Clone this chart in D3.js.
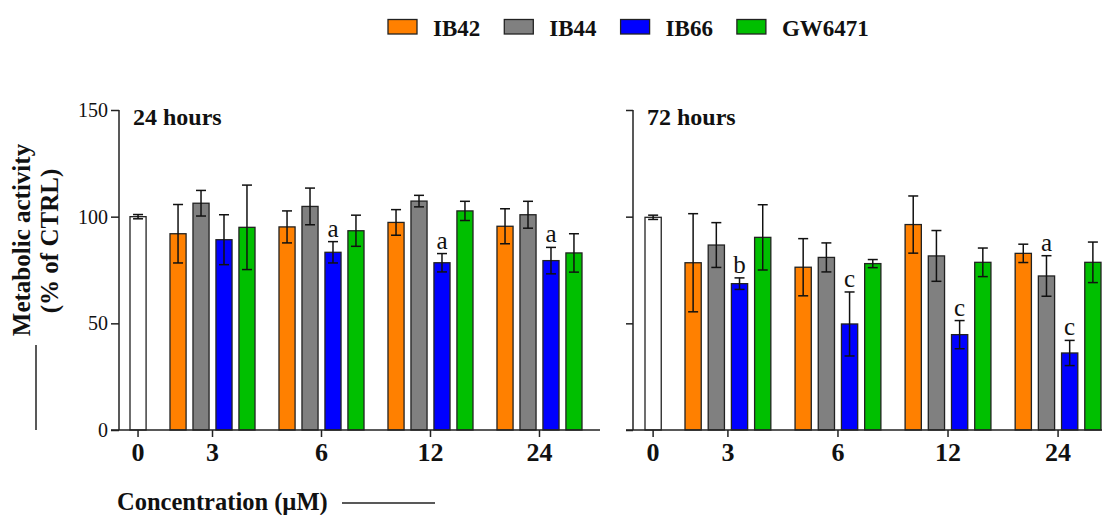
<!DOCTYPE html>
<html>
<head>
<meta charset="utf-8">
<script src="https://d3js.org/d3.v7.min.js"></script>
<style>
  body { margin: 0; background: #fff; }
  svg text { font-family: "Liberation Serif", "Times New Roman", "DejaVu Serif", serif !important; fill: #111; }
</style>
</head>
<body>
<svg id="vis"></svg>
<script>
  var W = 1102, H = 515

  // data
  var concs = ["3", "6", "12", "24"]
  var series = ["IB42", "IB44", "IB66", "GW6471"]
  var colors = ["#ff8000", "#808080", "#0000ff", "#00bf00"]
  var yTicks = [0, 50, 100, 150]

  var ctrl24 = 100, ctrlErr24 = 1
  var mean24 = [[92, 106.3, 89.2, 95], [95.2, 104.8, 83.3, 93.4], [97.3, 107.3, 78.4, 102.7], [95.5, 100.9, 79.4, 83]]
  var err24 = [[13.7, 6, 11.7, 19.8], [7.5, 8.6, 5, 7.3], [6, 2.7, 4.3, 4.5], [8.2, 6.3, 6.2, 9]]
  var sig24 = [["", "", "", ""], ["", "", "a", ""], ["", "", "a", ""], ["", "", "a", ""]]

  var ctrl72 = 99.7, ctrlErr72 = 1
  var mean72 = [[78.4, 86.7, 68.6, 90.3], [76.3, 80.9, 49.7, 78], [96.3, 81.6, 44.7, 78.6], [82.8, 72.2, 36.1, 78.6]]
  var err72 = [[23, 10.5, 2.7, 15.3], [13.4, 6.8, 15, 1.9], [13.4, 11.9, 6.6, 6.7], [4.3, 9.5, 5.9, 9.5]]
  var sig72 = [["", "", "b", ""], ["", "", "c", ""], ["", "", "c", ""], ["", "a", "c", ""]]

  var svg = d3.select('#vis').attr('width', W).attr('height', H)

  var y = d3.scaleLinear().domain([0, 150]).range([430, 110])

  function panel(p) {
    var g = svg.append('g')

    var xg = d3.scaleBand().domain(concs).range([p.g0, p.g1]).paddingInner(0.22)
    var xs = d3.scaleBand().domain(series).range([0, xg.bandwidth()]).paddingInner(0.3)
    var bw = xs.bandwidth()
    var ctrlX = xg(concs[0]) - 40

    // bars
    var rows = []
    concs.forEach(function (c, i) {
      series.forEach(function (s, j) {
        rows.push({ c: c, s: s, j: j, v: p.mean[i][j], e: p.err[i][j], sig: p.sig[i][j] })
      })
    })

    g.append('rect')
      .attr('x', ctrlX).attr('y', y(p.ctrl))
      .attr('width', bw).attr('height', y(0) - y(p.ctrl))
      .attr('fill', '#fff').attr('stroke', '#222').attr('stroke-width', 1.3)

    g.selectAll('.bar').data(rows).enter().append('rect')
      .attr('class', 'bar')
      .attr('x', function (d) { return xg(d.c) + xs(d.s) })
      .attr('y', function (d) { return y(d.v) })
      .attr('width', bw)
      .attr('height', function (d) { return y(0) - y(d.v) })
      .attr('fill', function (d) { return colors[d.j] })
      .attr('stroke', '#222').attr('stroke-width', 1.3)

    // error bars
    var eb = rows.map(function (d) { return { cx: xg(d.c) + xs(d.s) + bw / 2, v: d.v, e: d.e, sig: d.sig } })
    eb.push({ cx: ctrlX + bw / 2, v: p.ctrl, e: p.ctrlErr, sig: "" })

    var eg = g.selectAll('.eb').data(eb).enter().append('g').attr('class', 'eb')
      .attr('stroke', '#111').attr('stroke-width', 1.5)
    eg.append('line')
      .attr('x1', function (d) { return d.cx }).attr('x2', function (d) { return d.cx })
      .attr('y1', function (d) { return y(d.v + d.e) }).attr('y2', function (d) { return y(d.v - d.e) })
    eg.append('line')
      .attr('x1', function (d) { return d.cx - 5 }).attr('x2', function (d) { return d.cx + 5 })
      .attr('y1', function (d) { return y(d.v + d.e) }).attr('y2', function (d) { return y(d.v + d.e) })
    eg.append('line')
      .attr('x1', function (d) { return d.cx - 5 }).attr('x2', function (d) { return d.cx + 5 })
      .attr('y1', function (d) { return y(d.v - d.e) }).attr('y2', function (d) { return y(d.v - d.e) })

    // significance letters
    g.selectAll('.sig').data(eb.filter(function (d) { return d.sig })).enter().append('text')
      .attr('x', function (d) { return d.cx })
      .attr('y', function (d) { return y(d.v + d.e) - 5 })
      .attr('text-anchor', 'middle')
      .attr('font-size', 25)
      .text(function (d) { return d.sig })

    // y axis
    var yAxis = d3.axisLeft(y).tickValues(yTicks).tickSize(p.tick).tickPadding(3)
    if (!p.labels) yAxis.tickFormat('')
    var ya = g.append('g').attr('transform', 'translate(' + p.ax + ',0)').call(yAxis)
    ya.select('.domain').attr('d', 'M0,' + y(150) + 'V' + y(0)).attr('stroke-width', 1.5).attr('stroke', '#222')
    ya.selectAll('.tick line').attr('stroke-width', 1.5).attr('stroke', '#222')
    ya.selectAll('.tick text').attr('font-size', 20)

    // x axis
    var ticks = [{ t: "0", x: ctrlX + bw / 2 }].concat(concs.map(function (c) {
      return { t: c, x: xg(c) + xg.bandwidth() / 2 }
    }))
    g.append('line')
      .attr('x1', p.ax - p.tick).attr('x2', p.xEnd)
      .attr('y1', y(0)).attr('y2', y(0))
      .attr('stroke', '#222').attr('stroke-width', 1.5)
    g.selectAll('.xt').data(ticks).enter().append('line')
      .attr('x1', function (d) { return d.x }).attr('x2', function (d) { return d.x })
      .attr('y1', y(0)).attr('y2', y(0) + 7)
      .attr('stroke', '#222').attr('stroke-width', 1.5)
    g.selectAll('.xl').data(ticks).enter().append('text')
      .attr('x', function (d) { return d.x })
      .attr('y', 461)
      .attr('text-anchor', 'middle')
      .attr('font-size', 26).attr('font-weight', 'bold')
      .text(function (d) { return d.t })

    // title
    g.append('text')
      .attr('x', p.ax + 14).attr('y', 125)
      .attr('font-size', 24).attr('font-weight', 'bold')
      .text(p.title)
  }

  panel({ title: "24 hours", ax: 119, xEnd: 600, g0: 170, g1: 582, tick: 8, labels: true,
    ctrl: ctrl24, ctrlErr: ctrlErr24, mean: mean24, err: err24, sig: sig24 })
  panel({ title: "72 hours", ax: 633, xEnd: 1102, g0: 685, g1: 1101, tick: 7, labels: false,
    ctrl: ctrl72, ctrlErr: ctrlErr72, mean: mean72, err: err72, sig: sig72 })

  // y axis title
  svg.append('text')
    .attr('transform', 'translate(30,240) rotate(-90)')
    .attr('text-anchor', 'middle')
    .attr('font-size', 25).attr('font-weight', 'bold')
    .text("Metabolic activity")
  svg.append('text')
    .attr('transform', 'translate(58,241) rotate(-90)')
    .attr('text-anchor', 'middle')
    .attr('font-size', 25).attr('font-weight', 'bold')
    .text("(% of CTRL)")
  svg.append('line')
    .attr('x1', 36).attr('x2', 36).attr('y1', 345).attr('y2', 430)
    .attr('stroke', '#222').attr('stroke-width', 1.5)

  // x axis title
  svg.append('text')
    .attr('x', 117).attr('y', 510)
    .attr('font-size', 24.5).attr('font-weight', 'bold')
    .text("Concentration (\u00b5M)")
  svg.append('line')
    .attr('x1', 342).attr('x2', 435).attr('y1', 503).attr('y2', 503)
    .attr('stroke', '#222').attr('stroke-width', 1.5)

  // legend
  var lx = 388
  series.forEach(function (s, i) {
    svg.append('rect')
      .attr('x', lx).attr('y', 19.5).attr('width', 29).attr('height', 14.5)
      .attr('fill', colors[i]).attr('stroke', '#222').attr('stroke-width', 1.3)
    var t = svg.append('text')
      .attr('x', lx + 45).attr('y', 36)
      .attr('font-size', 23).attr('font-weight', 'bold')
      .text(s)
    lx = lx + 45 + t.node().getComputedTextLength() + 24
  })
</script>
</body>
</html>
